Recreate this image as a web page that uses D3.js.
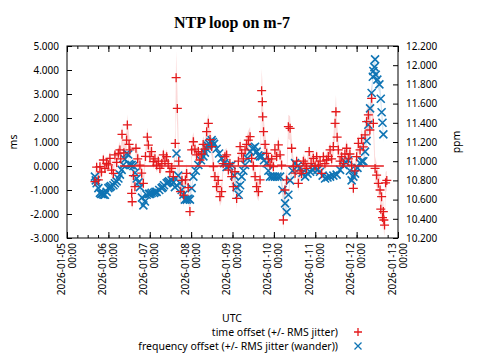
<!DOCTYPE html>
<html>
<head>
<meta charset="utf-8">
<script src="https://cdn.jsdelivr.net/npm/d3@7"></script>
<style>
  body { margin: 0; background: #fff; }
  svg { display: block; }
  text { font-family: "Noto Sans", sans-serif; }
</style>
</head>
<body>
<svg id="chart" width="480" height="360"></svg>
<script>
// ---- data ----
const title = "NTP loop on m-7";
const startTime = "2026-01-05T00:00:00Z";
const endTime = "2026-01-13T00:00:00Z";
const leftTicks = [-3, -2, -1, 0, 1, 2, 3, 4, 5];
const rightTicks = [10.2, 10.4, 10.6, 10.8, 11.0, 11.2, 11.4, 11.6, 11.8, 12.0, 12.2];
const seriesNames = ["time offset (+/- RMS jitter)", "frequency offset (+/- RMS jitter (wander))"];
const xLabel = "UTC";
const leftLabel = "ms";
const rightLabel = "ppm";
// time offset: [hours since start, offset ms, RMS jitter ms]
const offsetData = [
 [16.2,-0.65,0.3],[17.2,-0.05,0.3],[18.2,-0.58,0.3],[19.1,-0.03,0.3],[20.0,-0.25,0.3],[21.1,0.25,0.3],
 [22.0,-0.1,0.25],[23.0,0.11,0.3],[24.0,0.05,0.3],[24.9,0.32,0.3],[25.9,-0.17,0.3],[26.9,-0.31,0.3],
 [27.8,0.46,0.3],[28.8,0.15,0.3],[29.8,0.53,0.3],[30.7,0.67,0.35],[31.2,0.3,0.3],[31.9,1.32,0.4],
 [33.0,0.55,0.35],[34.6,1.08,0.4],[35.0,1.71,0.45],[36.0,0.9,0.4],[36.5,0.67,0.4],[37.5,-1.14,0.4],
 [37.8,-1.49,0.4],[38.5,-0.4,0.35],[39.4,-0.86,0.4],[40.0,0.74,0.35],[41.0,0.3,0.3],[42.3,0.04,0.3],
 [43.3,-0.3,0.3],[44.3,-0.72,0.35],[45.5,0.4,0.3],[46.6,1.2,0.4],[47.2,0.87,0.4],[48.1,0.39,0.3],
 [49.0,0.6,0.3],[50.1,0.18,0.3],[51.0,0.3,0.3],[52.0,0.04,0.3],[53.0,0.2,0.3],[53.9,-0.1,0.3],
 [55.0,0.1,0.3],[55.9,0.46,0.3],[56.8,0.2,0.3],[57.8,0.39,0.3],[58.7,0.1,0.3],[59.7,-0.24,0.3],
 [60.7,-0.1,0.3],[61.7,-0.44,0.35],[62.8,0.94,0.6],[63.3,3.68,1.1],[64.0,2.4,0.9],[64.8,0.2,0.7],
 [65.8,-1.07,0.6],[66.7,-0.6,0.5],[67.7,-1.21,0.5],[68.7,-0.58,0.4],[69.4,-0.31,0.4],[70.3,-0.9,0.4],
 [71.3,-1.9,0.45],[72.3,0.67,0.4],[73.3,1.01,0.4],[74.2,0.7,0.35],[75.2,0.46,0.3],[76.2,0.6,0.3],
 [77.1,0.25,0.3],[78.1,0.5,0.3],[79.0,0.9,0.35],[80.0,0.7,0.35],[81.0,1.43,0.4],[82.0,1.78,0.4],
 [83.0,1.1,0.4],[83.9,0.81,0.4],[84.9,-0.03,0.4],[85.8,-0.44,0.4],[86.8,-0.86,0.4],[87.7,-0.6,0.4],
 [88.7,-1.28,0.4],[89.7,-1.07,0.4],[90.6,0.1,0.35],[91.6,0.39,0.3],[92.6,0.46,0.3],[93.6,-0.17,0.3],
 [94.5,0.1,0.3],[95.5,-0.44,0.35],[96.5,-0.86,0.4],[97.4,-0.24,0.35],[98.4,-1.35,0.45],[99.4,0.2,0.35],
 [100.4,0.81,0.35],[101.3,0.53,0.3],[102.3,0.3,0.3],[103.3,0.67,0.35],[104.2,0.9,0.35],[105.2,1.08,0.4],
 [106.2,1.22,0.4],[107.1,0.32,0.35],[108.1,0.0,0.35],[109.1,-0.44,0.4],[110.0,-0.86,0.4],[111.0,-1.07,0.4],
 [112.0,-0.58,0.5],[112.9,3.14,0.9],[113.3,2.68,0.9],[113.5,2.05,0.8],[114.0,1.43,0.7],[114.9,0.9,0.5],
 [115.8,0.53,0.4],[116.8,0.3,0.3],[117.8,0.04,0.3],[118.7,0.3,0.3],[119.7,-0.03,0.3],[120.6,0.67,0.35],
 [121.6,0.4,0.3],[122.6,0.88,0.35],[123.6,0.46,0.3],[124.5,0.04,0.35],[125.5,-2.25,0.5],[126.4,-1.0,0.45],
 [127.4,-0.58,0.4],[128.4,1.64,0.5],[129.4,1.57,0.5],[130.3,0.74,0.45],[131.3,-0.03,0.4],[132.3,-0.3,0.35],
 [133.2,0.2,0.3],[134.2,-0.72,0.35],[135.2,-0.2,0.3],[136.1,-0.31,0.3],[137.1,0.2,0.3],[138.1,0.11,0.3],
 [139.0,-0.1,0.3],[140.5,0.6,0.3],[141.6,0.1,0.3],[142.9,0.32,0.3],[143.9,0.0,0.3],[144.8,0.39,0.3],
 [145.8,0.04,0.3],[146.8,0.2,0.3],[147.7,-0.31,0.3],[148.7,0.39,0.3],[149.6,0.1,0.3],[150.6,0.25,0.3],
 [151.6,0.4,0.3],[152.6,0.67,0.35],[153.5,0.3,0.35],[154.5,0.81,0.4],[155.5,1.78,0.6],[156.0,2.26,0.7],
 [156.7,1.2,0.6],[157.4,0.67,0.45],[158.4,0.2,0.35],[159.3,0.39,0.3],[160.3,0.1,0.3],[161.2,0.5,0.3],
 [162.2,0.74,0.35],[163.2,0.3,0.3],[164.1,0.5,0.3],[165.1,0.04,0.3],[166.1,-0.93,0.35],[167.0,-0.2,0.3],
 [168.0,0.39,0.3],[169.0,0.94,0.35],[170.0,0.67,0.35],[170.9,1.15,0.4],[171.9,0.8,0.4],[172.9,1.3,0.45],
 [173.8,1.85,0.5],[174.8,2.13,0.55],[175.7,1.5,0.55],[176.7,2.82,0.6],[177.7,1.78,0.55],[178.7,-0.1,0.5],
 [179.6,-0.38,0.5],[180.6,-0.72,0.5],[181.6,-1.0,0.5],[182.0,-1.8,0.5],[182.5,-1.28,0.5],[183.0,-2.15,0.5],
 [183.5,-1.9,0.5],[183.8,-2.25,0.5],[184.2,-2.46,0.5],[184.8,-0.7,0.45],[185.5,-0.6,0.4]
];
// frequency offset: [hours since start, ppm, wander ppm]
const freqData = [
 [16.2,10.84,0.03],[16.7,10.80,0.03],[17.2,10.77,0.03],[18.2,10.72,0.03],[19.1,10.67,0.03],[19.8,10.66,0.03],[20.5,10.66,0.03],[21.2,10.65,0.03],[22.0,10.65,0.03],
 [23.0,10.68,0.03],[24.0,10.72,0.03],[24.8,10.73,0.03],[25.5,10.74,0.03],[26.9,10.75,0.03],[27.8,10.77,0.03],[28.8,10.79,0.03],[29.8,10.82,0.03],
 [30.7,10.86,0.03],[31.7,10.91,0.03],[32.7,10.96,0.03],[33.6,11.02,0.03],[34.6,11.08,0.03],[35.5,11.07,0.03],
 [36.0,10.97,0.03],[36.8,10.96,0.03],[37.5,10.96,0.03],[38.5,10.95,0.03],[39.5,10.88,0.03],[40.4,10.82,0.03],[41.5,10.78,0.03],
 [42.3,10.73,0.03],[43.5,10.62,0.04],[44.3,10.54,0.04],[45.2,10.58,0.03],[46.2,10.65,0.03],[47.5,10.66,0.03],[48.3,10.66,0.03],
 [49.1,10.67,0.03],[50.5,10.67,0.03],[51.3,10.68,0.03],[52.0,10.68,0.03],[53.5,10.70,0.03],[54.9,10.72,0.03],[55.6,10.73,0.03],[56.3,10.75,0.03],
 [57.8,10.77,0.03],[58.5,10.78,0.03],[59.2,10.79,0.03],[60.7,10.80,0.03],[61.7,10.78,0.03],[62.6,10.73,0.04],[63.5,11.08,0.05],
 [64.5,10.85,0.05],[65.5,10.77,0.04],[66.5,10.70,0.04],[67.5,10.65,0.04],[68.4,10.60,0.04],[69.5,10.60,0.04],
 [70.5,10.61,0.04],[71.3,10.60,0.04],[72.3,10.72,0.04],[73.3,10.84,0.04],[74.7,10.90,0.03],[76.2,10.96,0.03],
 [77.7,11.01,0.03],[79.1,11.05,0.03],[80.0,11.09,0.03],[81.0,11.13,0.03],[81.7,11.16,0.03],[82.5,11.18,0.03],[83.2,11.20,0.03],[83.9,11.22,0.03],
 [84.6,11.20,0.03],[85.3,11.18,0.03],[86.8,11.13,0.03],[88.2,11.08,0.03],[89.7,11.03,0.03],[91.2,10.98,0.03],[92.6,10.94,0.03],
 [94.0,10.95,0.03],[95.5,10.96,0.03],[97.0,10.85,0.04],[98.4,10.73,0.04],[99.6,10.65,0.04],[100.4,10.75,0.04],
 [101.3,10.84,0.03],[102.3,10.90,0.03],[103.3,10.96,0.03],[104.7,11.03,0.03],[106.2,11.10,0.03],[107.6,11.13,0.03],[108.3,11.14,0.03],
 [109.1,11.15,0.03],[110.0,11.10,0.03],[111.0,11.06,0.03],[112.0,11.05,0.03],[112.9,11.05,0.03],[114.3,11.01,0.03],[115.8,10.98,0.03],
 [116.8,10.90,0.03],[117.8,10.84,0.03],[119.2,10.84,0.03],[120.6,10.84,0.03],[122.1,10.84,0.03],[123.6,10.84,0.03],
 [125.0,10.70,0.04],[126.5,10.56,0.05],[127.4,10.47,0.05],[128.4,10.65,0.05],[129.4,10.80,0.04],[130.8,10.90,0.03],
 [132.3,10.98,0.03],[133.8,10.95,0.03],[135.2,10.93,0.03],[136.6,10.88,0.03],[138.1,10.84,0.03],[139.5,10.87,0.03],
 [141.0,10.89,0.03],[142.5,10.91,0.03],[143.9,10.93,0.03],[145.3,10.91,0.03],[146.8,10.89,0.03],[148.3,10.85,0.03],
 [149.7,10.82,0.03],[151.1,10.83,0.03],[152.6,10.84,0.03],[154.5,10.85,0.03],[156.4,10.86,0.03],[158.4,10.91,0.03],
 [160.3,10.96,0.03],[161.7,10.99,0.03],[163.2,11.01,0.03],[164.1,10.90,0.04],[165.1,10.80,0.04],[166.1,10.84,0.03],
 [167.1,10.87,0.03],[168.5,10.93,0.03],[170.0,10.98,0.03],[171.0,11.00,0.03],[171.9,11.00,0.04],[172.9,11.10,0.05],
 [173.8,11.21,0.06],[174.8,11.38,0.07],[175.8,11.55,0.08],[176.7,11.71,0.08],[177.4,11.88,0.08],[177.7,11.94,0.08],
 [178.3,11.98,0.08],[178.7,12.06,0.08],[179.1,11.90,0.08],[180.0,11.85,0.08],[181.2,11.80,0.08],[182.0,11.65,0.08],
 [182.5,11.51,0.08],[183.0,11.40,0.08],[183.5,11.28,0.08]
];
// horizontal red segment at 0 ms: [hour, value]
const zeroLine = [[30.7, 0], [183.8, 0]];

// ---- chart ----
const plot = { left: 67, right: 398, top: 46, bottom: 238 };
const red = "#e41a1c", blue = "#0f74b4";
const svg = d3.select("#chart");
const t0 = new Date(startTime);
const toDate = h => new Date(t0.getTime() + h * 3600e3);

const x = d3.scaleUtc().domain([t0, new Date(endTime)]).range([plot.left, plot.right]);
const yL = d3.scaleLinear().domain([leftTicks[0], leftTicks[leftTicks.length - 1]]).range([plot.bottom, plot.top]);
const yR = d3.scaleLinear().domain([rightTicks[0], rightTicks[rightTicks.length - 1]]).range([plot.bottom, plot.top]);

// title
svg.append("text").attr("x", 232).attr("y", 28).attr("text-anchor", "middle")
  .style("font-family", "'Liberation Serif', serif").style("font-weight", "bold").style("font-size", "16px")
  .text(title);

// clip
svg.append("clipPath").attr("id", "clip").append("rect")
  .attr("x", plot.left).attr("y", plot.top).attr("width", plot.right - plot.left).attr("height", plot.bottom - plot.top);
const g = svg.append("g").attr("clip-path", "url(#clip)");

// bands
const offArea = d3.area().x(d => x(toDate(d[0]))).y0(d => yL(d[1] - d[2])).y1(d => yL(d[1] + d[2]));
const frqArea = d3.area().x(d => x(toDate(d[0]))).y0(d => yR(d[1] - d[2])).y1(d => yR(d[1] + d[2]));
g.append("path").datum(offsetData).attr("d", offArea).attr("fill", "rgba(240,120,120,0.28)");
g.append("path").datum(freqData).attr("d", frqArea).attr("fill", "rgba(100,165,215,0.3)");

// markers
const plus = r => `M${-r},0H${r}M0,${-r}V${r}`;
const cross = r => `M${-r},${-r}L${r},${r}M${-r},${r}L${r},${-r}`;
g.append("g").selectAll("path").data(freqData).join("path")
  .attr("transform", d => `translate(${x(toDate(d[0]))},${yR(d[1])})`)
  .attr("d", cross(4)).attr("stroke", blue).attr("stroke-width", 1.6).attr("fill", "none");
g.append("g").selectAll("path").data(offsetData).join("path")
  .attr("transform", d => `translate(${x(toDate(d[0]))},${yL(d[1])})`)
  .attr("d", plus(4.5)).attr("stroke", red).attr("stroke-width", 1.3).attr("fill", "none");

// zero segment
g.append("path").datum(zeroLine)
  .attr("d", d3.line().x(d => x(toDate(d[0]))).y(d => yL(d[1])))
  .attr("stroke", red).attr("stroke-width", 1.3).attr("fill", "none");

// frame
svg.append("rect").attr("x", plot.left).attr("y", plot.top)
  .attr("width", plot.right - plot.left).attr("height", plot.bottom - plot.top)
  .attr("fill", "none").attr("stroke", "#000").attr("stroke-width", 1);

// axes (ticks inward)
const fmt = v => v.toFixed(3);
const styleAxis = sel => { sel.select(".domain").remove(); sel.selectAll("line").attr("stroke", "#000"); sel.selectAll("text").style("font-family", "'Noto Sans', sans-serif").style("font-size", "10px").attr("fill", "#000"); };
svg.append("g").attr("transform", `translate(${plot.left},0)`)
  .call(d3.axisLeft(yL).tickValues(leftTicks).tickFormat(fmt).tickSize(-5).tickPadding(8)).call(styleAxis);
svg.append("g").attr("transform", `translate(${plot.right},0)`)
  .call(d3.axisRight(yR).tickValues(rightTicks).tickFormat(fmt).tickSize(-5).tickPadding(8)).call(styleAxis);
const days = x.ticks(d3.utcDay.every(1));
const quarters = x.ticks(d3.utcHour.every(6));
[[plot.bottom, d3.axisBottom], [plot.top, d3.axisTop]].forEach(([yy, ax]) => {
  svg.append("g").attr("transform", `translate(0,${yy})`).call(ax(x).tickValues(quarters).tickSize(-3).tickFormat("")).call(styleAxis);
  svg.append("g").attr("transform", `translate(0,${yy})`).call(ax(x).tickValues(days).tickSize(-6).tickFormat("")).call(styleAxis);
});

// x tick labels, rotated, two lines
const dFmt = d3.utcFormat("%Y-%m-%d"), hFmt = d3.utcFormat("%H:%M");
const lab = svg.append("g").selectAll("g").data(days).join("g")
  .attr("transform", d => `translate(${x(d)},${plot.bottom + 5}) rotate(-90)`)
  .style("font-size", "10px");
lab.append("text").attr("text-anchor", "end").attr("y", -2.5).text(d => dFmt(d));
lab.append("text").attr("text-anchor", "end").attr("y", 8.5).text(d => hFmt(d));

// axis titles
svg.append("text").attr("transform", `translate(17,142) rotate(-90)`).attr("text-anchor", "middle").style("font-size", "10.5px").text(leftLabel);
svg.append("text").attr("transform", `translate(460,142) rotate(-90)`).attr("text-anchor", "middle").style("font-size", "10.5px").text(rightLabel);
svg.append("text").attr("x", 232).attr("y", 322).attr("text-anchor", "middle").style("font-size", "10.5px").text(xLabel);

// legend
const leg = svg.append("g").selectAll("g").data(seriesNames).join("g")
  .attr("transform", (d, i) => `translate(0,${332 + i * 14})`);
leg.append("text").attr("x", 338).attr("y", 4).attr("text-anchor", "end").style("font-size", "10.5px").text(d => d);
leg.append("path").attr("transform", "translate(358,0)")
  .attr("d", (d, i) => i === 0 ? plus(4) : cross(3.5))
  .attr("stroke", (d, i) => i === 0 ? red : blue).attr("stroke-width", 1.3).attr("fill", "none");
</script>
</body>
</html>
